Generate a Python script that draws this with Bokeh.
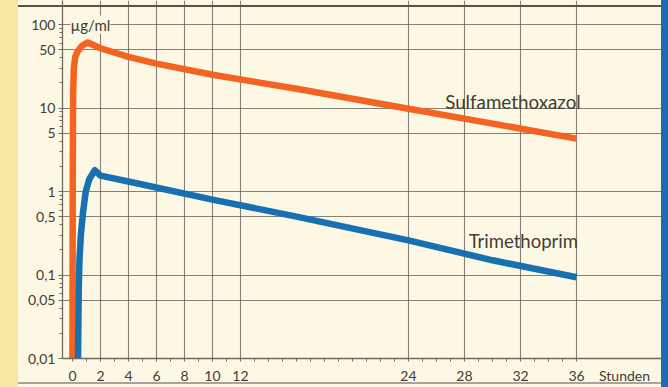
from bokeh.plotting import figure
from bokeh.models import Range1d, FixedTicker, CustomJSTickFormatter, Label
from bokeh.embed import file_html
from bokeh.resources import INLINE

# ---- data ----
sulfa_t = [0, 0.02, 0.05, 0.1, 0.2, 0.35, 0.7, 1.1, 2, 4, 6, 10, 16, 24, 30, 36]
sulfa_v = [0.01, 1.0, 15, 30, 41, 47, 56, 61, 52, 41, 34, 25, 17, 9.8, 6.5, 4.3]
trim_t = [0.4, 0.45, 0.5, 0.6, 0.75, 0.95, 1.2, 1.6, 2.0, 4, 10, 16, 24, 30, 36]
trim_v = [0.01, 0.07, 0.15, 0.3, 0.55, 1.0, 1.4, 1.8, 1.55, 1.32, 0.8, 0.5, 0.26, 0.15, 0.094]

y_ticks = [0.01, 0.05, 0.1, 0.5, 1, 5, 10, 50, 100]
x_ticks = [0, 2, 4, 6, 8, 10, 12, 24, 28, 32, 36]
x_unit = "Stunden"
y_unit = "µg/ml"
series_names = ["Sulfamethoxazol", "Trimethoprim"]

ORANGE = "#f36322"
BLUE = "#1670b2"
CREAM = "#fdf8e4"
TEXT = "#403d38"
FONT = "Lato"

p = figure(width=668, height=387, y_axis_type="log",
           x_range=Range1d(-0.71, 42.07), y_range=Range1d(0.01, 194),
           output_backend="svg", toolbar_location=None,
           min_border_left=62, min_border_right=7, min_border_top=0, min_border_bottom=29)
p.border_fill_color = None
p.background_fill_color = None
p.outline_line_color = None
bg = ("linear-gradient(to right, #f8e7a0 0px, #f8e7a0 18px, transparent 18px, "
      "transparent 661px, #1b6cb0 661px), "
      "linear-gradient(to bottom, transparent 0px, transparent 5px, #55524c 5px, #55524c 7px, "
      "transparent 7px, transparent 382px, #a8a49a 382px, #a8a49a 384px, transparent 384px), " + CREAM)
p.styles = {"background": bg}

# y axis
minor_y = [m * 10 ** e for e in range(-2, 3) for m in range(2, 10)]
p.yaxis.ticker = FixedTicker(ticks=y_ticks, minor_ticks=minor_y)
p.yaxis.formatter = CustomJSTickFormatter(code="return tick.toString().replace('.', ',');")
p.yaxis.major_label_text_font = FONT
p.yaxis.major_label_text_font_size = "14px"
p.yaxis.major_label_text_color = TEXT
p.yaxis.major_label_standoff = 3
p.yaxis.axis_line_color = "#6e6a62"
p.yaxis.axis_line_width = 1.3
p.yaxis.major_tick_line_color = "#6e6a62"
p.yaxis.major_tick_out = 4
p.yaxis.major_tick_in = 0
p.yaxis.minor_tick_line_color = "#6e6a62"
p.yaxis.minor_tick_out = 3
p.yaxis.minor_tick_in = 0

# x axis (unit label shown as last tick label)
unit_pos = 39.43
p.xaxis.ticker = FixedTicker(ticks=x_ticks + [unit_pos], minor_ticks=list(range(0, 37)))
p.xaxis.formatter = CustomJSTickFormatter(
    args=dict(unit=x_unit),
    code="return tick > 37 ? unit : tick.toString();")
p.xaxis.major_label_text_font = FONT
p.xaxis.major_label_text_font_size = "14px"
p.xaxis.major_label_text_color = TEXT
p.xaxis.major_label_standoff = 5
p.xaxis.axis_line_color = "#6e6a62"
p.xaxis.axis_line_width = 1.3
p.xaxis.major_tick_out = 0
p.xaxis.major_tick_in = 0
p.xaxis.minor_tick_line_color = "#6e6a62"
p.xaxis.minor_tick_out = 3
p.xaxis.minor_tick_in = 0

# grids
p.xgrid.ticker = FixedTicker(ticks=x_ticks[1:])
p.ygrid.ticker = FixedTicker(ticks=y_ticks[1:])
for g in (p.xgrid, p.ygrid):
    g.grid_line_color = "#5e5a52"
    g.grid_line_alpha = 0.75
    g.grid_line_width = 1.1

# curves
p.line(sulfa_t, sulfa_v, line_color=ORANGE, line_width=6.5, line_join="round", line_cap="butt")
p.line(trim_t, trim_v, line_color=BLUE, line_width=6.5, line_join="round", line_cap="butt")

# labels
p.add_layout(Label(x=-0.14, y=100, text=y_unit, text_baseline="middle", text_align="left",
                   text_font=FONT, text_font_size="15px", text_color=TEXT,
                   background_fill_color=CREAM))
p.add_layout(Label(x=36.3, y=11.9, text=series_names[0], text_baseline="middle", text_align="right",
                   text_font=FONT, text_font_size="18.8px", text_color=TEXT))
p.add_layout(Label(x=36.1, y=0.255, text=series_names[1], text_baseline="middle", text_align="right",
                   text_font=FONT, text_font_size="18.5px", text_color=TEXT))

open("out.html", "w").write(file_html(p, INLINE))
